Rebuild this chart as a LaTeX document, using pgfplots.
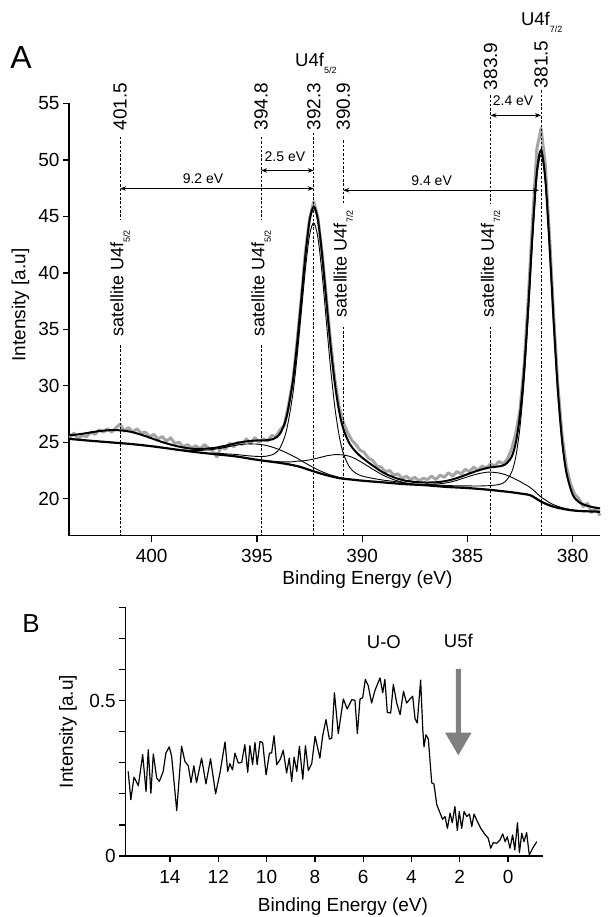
\documentclass[border=0pt]{standalone}
\usepackage{pgfplots}
\pgfplotsset{compat=1.18}
\usepackage{fontspec}
\setmainfont{Liberation Sans}
\usetikzlibrary{arrows.meta}
\definecolor{datagray}{RGB}{165,165,165}
\definecolor{arrowgray}{RGB}{128,128,128}
\newcommand{\fs}[1]{\fontsize{#1}{#1}\selectfont}
\newcommand{\sub}[1]{\raisebox{-0.35em}{\fontsize{9}{9}\selectfont #1}}
\tikzset{dl/.style={black, line width=0.8pt, dash pattern=on 2.5pt off 1.8pt},
  dim/.style={{Stealth[length=6pt,width=4.5pt]}-{Stealth[length=6pt,width=4.5pt]}, black, line width=0.9pt}}
\begin{document}
\begin{tikzpicture}
\path (0pt,0pt) rectangle (607pt,917pt);
\begin{axis}[
  at={(69pt,381.3pt)}, anchor=south west, scale only axis,
  width=531pt, height=432.2pt,
  xmin=378.7, xmax=403.93, ymin=16.73, ymax=55,
  x dir=reverse,
  axis x line=bottom, axis y line=left, axis line style={-, line width=1.5pt},
  tick align=outside, major tick length=6pt,
  tick style={black, line width=1.3pt},
  xtick={380,385,390,395,400}, ytick={20,25,30,35,40,45,50,55},
  ticklabel style={font=\fs{19}},
  xticklabel style={yshift=-4pt},
  /pgf/number format/assume math mode=true,
  clip=false,
]
% measured data (gray)
\addplot[datagray, line width=3pt, line join=round, mark=none] table {
x y
403.9 25.4
403.7 25.8
403.5 25.3
403.3 25.6
403.1 25.5
402.9 25.9
402.7 25.7
402.5 26.1
402.3 25.9
402.1 26.2
401.9 25.9
401.7 26.3
401.5 26.6
401.3 26.0
401.1 26.3
400.9 25.9
400.7 26.2
400.5 25.8
400.3 25.9
400.1 25.5
399.9 25.7
399.7 25.3
399.5 25.5
399.3 25.1
399.1 25.4
398.9 24.9
398.7 25.0
398.5 24.6
398.3 24.8
398.1 24.5
397.9 24.7
397.7 24.4
397.5 24.8
397.3 24.5
397.1 24.2
396.9 23.7
396.7 24.6
396.5 24.4
396.3 24.9
396.1 24.6
395.9 25.0
395.7 24.8
395.5 25.3
395.3 24.9
395.1 25.4
394.9 25.0
394.7 25.3
394.5 25.1
394.3 25.6
394.1 25.5
393.9 26.1
393.7 26.5
393.5 28.3
393.3 30.4
393.1 33.8
392.9 37.6
392.7 41.8
392.5 44.8
392.3 46.3
392.1 44.9
391.9 41.7
391.7 37.8
391.5 33.9
391.3 30.6
391.1 28.2
390.9 26.8
390.7 25.9
390.5 25.2
390.3 24.8
390.1 24.3
389.9 24.1
389.7 23.6
389.5 23.4
389.3 22.9
389.1 22.8
388.9 22.4
388.7 22.5
388.5 22.1
388.3 22.2
388.1 21.8
387.9 22.0
387.7 21.7
387.5 21.9
387.3 21.6
387.1 21.8
386.9 21.7
386.7 22.0
386.5 21.7
386.3 22.1
386.1 21.9
385.9 22.3
385.7 22.0
385.5 22.4
385.3 22.2
385.1 22.6
384.9 22.4
384.7 22.8
384.5 22.5
384.3 22.9
384.1 22.7
383.9 23.1
383.7 22.9
383.5 23.3
383.3 23.1
383.1 23.5
382.9 24.4
382.7 25.8
382.5 27.9
382.3 32.0
382.1 38.0
381.9 44.8
381.7 51.0
381.5 52.8
381.3 49.6
381.1 43.3
380.9 36.2
380.7 30.0
380.5 25.6
380.3 22.9
380.1 21.3
379.9 20.4
379.7 20.0
379.5 19.3
379.3 19.6
379.1 18.8
378.9 19.2
378.7 18.5
};
% background
\addplot[black, line width=2.2pt, smooth, mark=none] table {
x y
403.9 25.3
403 25.15
402 25.0
401 24.85
400 24.65
399 24.4
398 24.15
397 23.95
396 23.75
395 23.45
394 23.2
393.5 23.05
393 22.85
392.5 22.55
392 22.25
391.5 22.0
391 21.8
390.5 21.7
390 21.6
389 21.45
388 21.3
387 21.2
386 21.05
385 20.95
384 20.8
383.5 20.7
383 20.6
382.5 20.47
382 20.3
381.5 19.75
381 19.35
380.5 19.12
380 18.97
379.5 18.9
379 18.87
378.7 18.85
};
% U4f5/2 main component
\addplot[black, line width=0.9pt, smooth, mark=none] table {
x y
397.0 24.05
396.5 23.98
396.0 23.92
395.5 23.82
395.0 23.75
394.6 23.76
394.2 23.96
393.9 24.52
393.6 26.02
393.3 29.19
393.1 32.46
392.9 36.35
392.7 40.29
392.5 43.33
392.3 44.43
392.1 43.09
391.9 39.82
391.7 35.66
391.5 31.55
391.3 28.14
391.1 25.65
390.9 24.04
390.6 22.79
390.3 22.26
390.0 22.01
389.5 21.81
389.0 21.65
388.5 21.54
388.0 21.42
};
% satellite 394.8
\addplot[black, line width=0.9pt, smooth, mark=none] table {
x y
398.5 24.33
398.0 24.27
397.5 24.30
397.0 24.39
396.5 24.55
396.0 24.74
395.5 24.85
395.0 24.84
394.6 24.74
394.2 24.53
393.9 24.32
393.6 24.07
393.3 23.79
393.1 23.61
392.9 23.38
392.7 23.16
392.5 22.95
392.3 22.75
392.1 22.56
391.9 22.39
391.7 22.24
391.5 22.10
391.3 22.00
391.1 21.89
390.9 21.82
390.6 21.74
};
% satellite 390.9
\addplot[black, line width=0.9pt, smooth, mark=none] table {
x y
394.6 23.37
394.2 23.31
393.9 23.27
393.6 23.26
393.3 23.28
393.1 23.33
392.9 23.34
392.7 23.38
392.5 23.44
392.3 23.52
392.1 23.61
391.9 23.70
391.7 23.80
391.5 23.86
391.3 23.91
391.1 23.91
390.9 23.88
390.6 23.76
390.3 23.52
390.0 23.20
389.5 22.62
389.0 22.08
388.5 21.69
388.0 21.43
387.5 21.29
387.0 21.21
};
% U4f7/2 main component
\addplot[black, line width=0.9pt, smooth, mark=none] table {
x y
387.0 21.28
386.5 21.23
386.0 21.17
385.5 21.15
385.0 21.14
384.5 21.13
384.0 21.16
383.5 21.26
383.2 21.52
382.9 22.35
382.7 23.74
382.5 26.36
382.3 30.62
382.1 36.49
381.9 43.04
381.7 48.42
381.5 50.45
381.3 48.04
381.1 42.28
380.9 35.46
380.7 29.43
380.5 25.01
380.3 22.28
380.0 20.33
379.7 19.67
379.4 19.41
379.0 19.23
378.7 19.14
};
% satellite 383.9
\addplot[black, line width=0.9pt, smooth, mark=none] table {
x y
388.0 21.31
387.5 21.28
387.0 21.27
386.5 21.30
386.0 21.40
385.5 21.63
385.0 21.94
384.5 22.21
384.0 22.36
383.5 22.28
383.2 22.13
382.9 21.90
382.7 21.72
382.5 21.53
382.3 21.31
382.1 21.10
381.9 20.82
381.7 20.48
381.5 20.15
381.3 19.90
381.1 19.66
380.9 19.47
380.7 19.33
380.5 19.21
380.3 19.12
380.0 19.00
379.7 18.95
379.4 18.91
379.0 18.87
378.7 18.85
};
% envelope
\addplot[black, line width=2pt, smooth, mark=none] table {
x y
403.9 25.62
403.5 25.70
403.0 25.84
402.5 25.99
402.0 26.07
401.5 26.06
401.0 25.93
400.5 25.67
400.0 25.35
399.5 25.02
399.0 24.75
398.5 24.54
398.0 24.42
397.5 24.43
397.0 24.51
396.5 24.69
396.0 24.92
395.5 25.08
395.0 25.16
394.6 25.18
394.2 25.31
393.9 25.78
393.6 27.20
393.3 30.33
393.1 33.59
392.9 37.50
392.7 41.50
392.5 44.63
392.3 45.86
392.1 44.66
391.9 41.53
391.7 37.52
391.5 33.53
391.3 30.24
391.1 27.80
390.9 26.21
390.6 24.88
390.3 24.16
390.0 23.64
389.5 22.94
389.0 22.32
388.5 21.90
388.0 21.62
387.5 21.49
387.0 21.44
386.5 21.46
386.0 21.58
385.5 21.83
385.0 22.17
384.5 22.50
384.0 22.75
383.5 22.87
383.2 23.04
382.9 23.71
382.7 24.97
382.5 27.45
382.3 31.55
382.1 37.28
381.9 43.69
381.7 48.95
381.5 50.87
381.3 48.37
381.1 42.53
380.9 35.65
380.7 29.57
380.5 25.12
380.3 22.36
380.0 20.38
379.7 19.71
379.4 19.44
379.0 19.24
378.7 19.15
};
% dashed marker lines
\draw[dl] (axis cs:401.5,52.04) -- (axis cs:401.5,44.66);
\draw[dl] (axis cs:401.5,33.6) -- (axis cs:401.5,16.73);
\draw[dl] (axis cs:394.8,52.04) -- (axis cs:394.8,44.66);
\draw[dl] (axis cs:394.8,33.6) -- (axis cs:394.8,16.73);
\draw[dl] (axis cs:392.3,52.4) -- (axis cs:392.3,16.73);
\draw[dl] (axis cs:390.9,51.74) -- (axis cs:390.9,46.14);
\draw[dl] (axis cs:390.9,35.22) -- (axis cs:390.9,16.73);
\draw[dl] (axis cs:383.9,55.73) -- (axis cs:383.9,46.14);
\draw[dl] (axis cs:383.9,35.22) -- (axis cs:383.9,16.73);
\draw[dl] (axis cs:381.5,56.17) -- (axis cs:381.5,16.73);
% value labels
\node[rotate=90, anchor=west, inner sep=0pt, font=\fs{19}] at (axis cs:401.5,52.62) {401.5};
\node[rotate=90, anchor=west, inner sep=0pt, font=\fs{19}] at (axis cs:394.8,52.62) {394.8};
\node[rotate=90, anchor=west, inner sep=0pt, font=\fs{19}] at (axis cs:392.3,52.62) {392.3};
\node[rotate=90, anchor=west, inner sep=0pt, font=\fs{19}] at (axis cs:390.9,52.62) {390.9};
\node[rotate=90, anchor=west, inner sep=0pt, font=\fs{19}] at (axis cs:383.9,56.17) {383.9};
\node[rotate=90, anchor=west, inner sep=0pt, font=\fs{19}] at (axis cs:381.5,56.35) {381.5};
% satellite labels
\node[rotate=90, inner sep=0pt, font=\fs{18}] at (axis cs:401.5,39.07) {satellite U4f\sub{5/2}};
\node[rotate=90, inner sep=0pt, font=\fs{18}] at (axis cs:394.8,39.07) {satellite U4f\sub{5/2}};
\node[rotate=90, inner sep=0pt, font=\fs{18}] at (axis cs:390.9,40.81) {satellite U4f\sub{7/2}};
\node[rotate=90, inner sep=0pt, font=\fs{18}] at (axis cs:383.9,40.81) {satellite U4f\sub{7/2}};
% peak labels
\node[font=\fs{18.5}] at (axis cs:392.2,58.56) {U4f\sub{5/2}};
\node[font=\fs{18.5}] at (axis cs:381.47,62.2) {U4f\sub{7/2}};
% splittings
\draw[dim] (axis cs:394.8,49.07) -- (axis cs:392.3,49.07);
\node[font=\fs{14}] at (axis cs:393.67,50.27) {2.5 eV};
\draw[dim] (axis cs:401.5,47.47) -- (axis cs:392.3,47.47);
\node[font=\fs{14}] at (axis cs:397.56,48.35) {9.2 eV};
\draw[dim] (axis cs:390.9,47.32) -- (axis cs:381.6,47.32);
\node[font=\fs{14}] at (axis cs:386.7,48.2) {9.4 eV};
\draw[dim] (axis cs:383.9,53.95) -- (axis cs:381.5,53.95);
\node[font=\fs{14}] at (axis cs:382.83,55.27) {2.4 eV};
\end{axis}

\begin{axis}[
  at={(125.3pt,61pt)}, anchor=south west, scale only axis,
  width=418pt, height=248.7pt,
  xmin=-1.46, xmax=15.85, ymin=0, ymax=0.8,
  x dir=reverse,
  axis x line=bottom, axis y line=left, axis line style={-, line width=1.5pt},
  tick align=outside, major tick length=6pt,
  tick style={black, line width=1.3pt},
  xtick={0,2,4,6,8,10,12,14},
  ytick={0,0.1,0.2,0.3,0.4,0.5,0.6,0.7,0.8},
  yticklabels={0,,,,,0.5,,,},
  ticklabel style={font=\fs{19}},
  xticklabel style={yshift=-5pt},
  /pgf/number format/assume math mode=true,
  clip=false,
]
\addplot[black, line width=1.2pt, line join=round, mark=none] table {
x y
15.73 0.272
15.62 0.181
15.49 0.254
15.31 0.226
15.13 0.326
14.99 0.207
14.90 0.342
14.79 0.202
14.69 0.328
14.55 0.251
14.44 0.240
14.28 0.272
14.17 0.331
14.03 0.351
13.93 0.320
13.72 0.146
13.52 0.353
13.38 0.304
13.24 0.290
13.13 0.236
13.01 0.290
12.90 0.236
12.69 0.315
12.51 0.232
12.32 0.313
12.11 0.200
11.93 0.267
11.72 0.367
11.61 0.272
11.52 0.297
11.41 0.277
11.31 0.331
11.17 0.299
11.03 0.301
10.90 0.358
10.78 0.269
10.69 0.355
10.58 0.294
10.48 0.365
10.39 0.294
10.27 0.369
10.16 0.364
10.02 0.261
9.88 0.331
9.79 0.331
9.69 0.387
9.58 0.294
9.44 0.310
9.31 0.340
9.17 0.267
9.06 0.315
8.96 0.240
8.86 0.318
8.75 0.272
8.64 0.353
8.50 0.247
8.39 0.355
8.27 0.275
8.13 0.297
7.99 0.385
7.79 0.315
7.68 0.385
7.54 0.439
7.40 0.376
7.30 0.379
7.19 0.525
7.03 0.394
6.82 0.505
6.66 0.473
6.47 0.503
6.34 0.501
6.24 0.394
6.13 0.505
6.02 0.509
5.91 0.568
5.79 0.548
5.65 0.492
5.51 0.533
5.30 0.573
5.19 0.525
5.10 0.568
5.00 0.462
4.86 0.460
4.75 0.552
4.61 0.492
4.47 0.455
4.33 0.530
4.20 0.492
4.06 0.505
3.95 0.514
3.85 0.441
3.76 0.428
3.62 0.566
3.53 0.406
3.48 0.351
3.40 0.390
3.30 0.376
3.16 0.235
3.07 0.232
2.95 0.165
2.84 0.143
2.71 0.118
2.61 0.127
2.51 0.089
2.40 0.138
2.31 0.107
2.20 0.159
2.10 0.082
2.02 0.143
1.92 0.089
1.82 0.143
1.71 0.127
1.60 0.135
1.50 0.095
1.41 0.135
1.27 0.111
1.13 0.089
0.99 0.073
0.82 0.057
0.72 0.025
0.61 0.043
0.47 0.041
0.33 0.052
0.22 0.071
0.12 0.046
0.03 0.062
-0.08 0.025
-0.19 0.068
-0.28 0.019
-0.39 0.107
-0.47 0.011
-0.57 0.073
-0.66 0.046
-0.77 0.075
-0.88 0.003
-1.02 0.025
-1.19 0.046
};
\fill[arrowgray] (axis cs:2.164,0.602) -- (axis cs:2.164,0.397) -- (axis cs:2.61,0.397) -- (axis cs:2.06,0.324) -- (axis cs:1.51,0.397) -- (axis cs:1.956,0.397) -- (axis cs:1.956,0.602) -- cycle;
\node[font=\fs{18.5}] at (axis cs:5.14,0.688) {U-O};
\node[font=\fs{18.5}] at (axis cs:2.06,0.691) {U5f};
\end{axis}

\node[font=\fs{32}, inner sep=0pt] at (21pt,859pt) {A};
\node[font=\fs{26}, inner sep=0pt] at (31pt,293pt) {B};
\node[font=\fs{19}, inner sep=0pt] at (367.5pt,337pt) {Binding Energy (eV)};
\node[font=\fs{19}, rotate=90, inner sep=0pt] at (20.5pt,612pt) {Intensity [a.u]};
\node[font=\fs{19}, inner sep=0pt] at (343pt,10.3pt) {Binding Energy (eV)};
\node[font=\fs{19}, rotate=90, inner sep=0pt] at (68pt,185.5pt) {Intensity [a.u]};
\end{tikzpicture}
\end{document}
